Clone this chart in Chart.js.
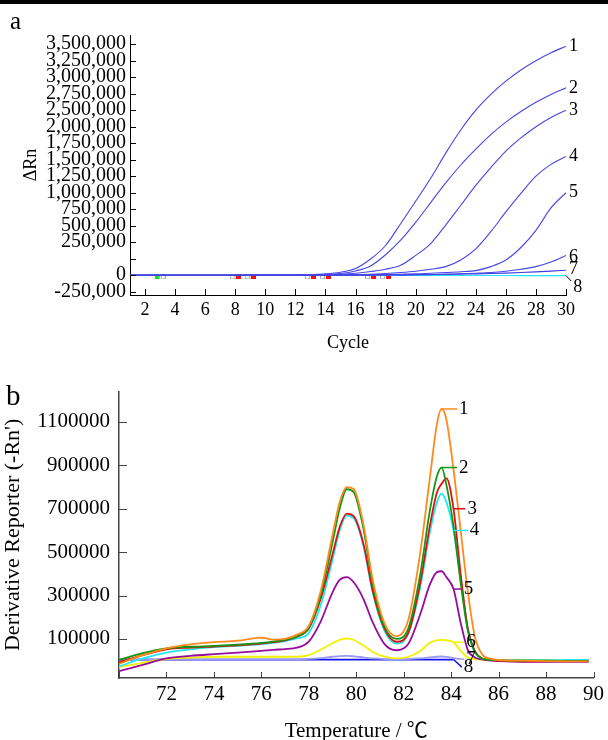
<!DOCTYPE html>
<html>
<head>
<meta charset="utf-8">
<script src="https://cdn.jsdelivr.net/npm/chart.js@4.4.1/dist/chart.umd.min.js"></script>
<style>
  body { margin: 0; background: #fff; }
  #page { position: relative; width: 608px; height: 740px; overflow: hidden; }
  #rule { position: absolute; left: 0; top: 0; width: 608px; height: 4px; background: #000; }
  #chartA { position: absolute; left: 0; top: 0; }
  #chartB { position: absolute; left: 0; top: 370px; }
</style>
</head>
<body>
<div id="page">
  <canvas id="chartA" width="608" height="370"></canvas>
  <canvas id="chartB" width="608" height="390"></canvas>
  <div id="rule"></div>
</div>
<script>
const serif = "'Liberation Serif', 'Noto Sans CJK SC', serif";

// ---- (a) amplification curves, delta Rn per cycle ----
const cycles = [1, 2, 3, 4, 5, 6, 7, 8, 9, 10, 11, 12, 13, 14, 15, 16, 17, 18, 19, 20, 21, 22, 23, 24, 25, 26, 27, 28, 29, 30];
const amp1 = [0, 0, 0, 0, 0, 0, 0, 0, 0, 2000, 3000, 5000, 10000, 20000, 45000, 100000, 245000, 450000, 780000, 1120000, 1470000, 1850000, 2200000, 2500000, 2740000, 2940000, 3110000, 3250000, 3370000, 3470000];
const amp2 = [0, 0, 0, 0, 0, 0, 0, 0, 0, 1000, 2000, 3000, 6000, 10000, 25000, 65000, 140000, 310000, 530000, 800000, 1100000, 1400000, 1670000, 1910000, 2130000, 2320000, 2480000, 2620000, 2740000, 2840000];
const amp3 = [0, 0, 0, 0, 0, 0, 0, 0, 0, 0, 1000, 2000, 4000, 7000, 15000, 30000, 55000, 90000, 150000, 300000, 480000, 760000, 1060000, 1360000, 1630000, 1880000, 2080000, 2250000, 2390000, 2500000];
const amp4 = [0, 0, 0, 0, 0, 0, 0, 0, 0, 0, 0, 1000, 1000, 2000, 3000, 8000, 15000, 25000, 40000, 60000, 90000, 130000, 230000, 400000, 660000, 960000, 1240000, 1500000, 1680000, 1800000];
const amp5 = [0, 0, 0, 0, 0, 0, 0, 0, 0, 0, 0, 0, 1000, 2000, 3000, 5000, 7000, 10000, 15000, 20000, 30000, 40000, 52000, 70000, 130000, 230000, 420000, 680000, 1020000, 1250000];
const amp6 = [0, 0, 0, 0, 0, 0, 0, 0, 0, 0, 0, 0, 0, 0, 1000, 1000, 2000, 3000, 5000, 7000, 10000, 15000, 22000, 30000, 40000, 60000, 90000, 130000, 200000, 300000];
const amp7 = [0, 0, 0, 0, 0, 0, 0, 0, 0, 0, 0, 0, 0, 0, 0, 1000, 1000, 2000, 4000, 6000, 9000, 12000, 16000, 20000, 25000, 32000, 40000, 50000, 62000, 75000];
const amp8 = [0, 0, 0, 0, 0, 0, 0, 0, 0, 0, 0, 0, 0, 0, 0, 0, 0, -1000, -2000, -3000, -3000, -4000, -4000, -5000, -5000, -5000, -6000, -6000, -6000, -6000];
const cycleTicks = [2, 4, 6, 8, 10, 12, 14, 16, 18, 20, 22, 24, 26, 28, 30];
const ampTickValues = [-250000, 0, 250000, 500000, 750000, 1000000, 1250000, 1500000, 1750000, 2000000, 2250000, 2500000, 2750000, 3000000, 3250000, 3500000];
const ampTickLabels = ['-250,000', '0', '', '250,000', '500,000', '750,000', '1,000,000', '1,250,000', '1,500,000', '1,750,000', '2,000,000', '2,500,000', '2,750,000', '3,000,000', '3,250,000', '3,500,000'];
const baselineStart = [3];
const baselineEnd = [8, 9, 13, 14, 17, 18];
const markerLevel = -25000;

// ---- (b) melt curves, derivative reporter vs temperature ----
const temps = [70, 71, 72, 73, 74, 75, 76, 76.5, 77, 77.5, 78, 78.5, 79, 79.3, 79.6, 79.9, 80.3, 80.7, 81.2, 81.7, 82.2, 82.7, 83.1, 83.4, 83.6, 83.8, 84.1, 84.4, 84.7, 85, 85.3, 85.7, 86, 87, 88, 89, 89.8];
const melt1 = [-15000, 25000, 57000, 75000, 85000, 92000, 106000, 97000, 100000, 120000, 160000, 320000, 580000, 730000, 800000, 790000, 630000, 370000, 170000, 113000, 190000, 500000, 840000, 1090000, 1160000, 1110000, 880000, 600000, 320000, 110000, 30000, 8000, 3000, 0, -2000, -3000, -3000];
const melt2 = [3000, 35000, 57000, 64000, 68000, 74000, 82000, 88000, 96000, 112000, 152000, 300000, 545000, 700000, 790000, 775000, 610000, 350000, 155000, 100000, 150000, 400000, 690000, 850000, 890000, 810000, 620000, 360000, 140000, 40000, 10000, 3000, 2000, 0, 0, -2000, -2000];
const melt3 = [-7500, 25000, 52000, 60000, 65000, 70000, 78000, 85000, 93000, 110000, 148000, 285000, 490000, 615000, 678000, 665000, 540000, 320000, 145000, 87000, 130000, 360000, 620000, 775000, 815000, 840000, 700000, 400000, 150000, 45000, 10000, 2000, 0, -3000, -3000, -2000, -2000];
const melt4 = [-27000, 10000, 37000, 52000, 62000, 68000, 76000, 82000, 90000, 102000, 128000, 255000, 465000, 600000, 668000, 655000, 530000, 310000, 135000, 78000, 125000, 340000, 590000, 730000, 770000, 730000, 600000, 380000, 150000, 40000, 10000, 4000, 3000, 2000, 2000, 3000, 3000];
const melt5 = [-48000, -20000, 10000, 22000, 30000, 37000, 45000, 50000, 53000, 60000, 88000, 180000, 315000, 372000, 385000, 360000, 285000, 175000, 75000, 48000, 78000, 215000, 350000, 408000, 412000, 385000, 330000, 175000, 50000, 15000, 6000, 0, -2000, -5000, -5000, -5000, -5000];
const melt6 = [-30000, -10000, 7500, 14000, 18000, 18000, 18000, 18000, 18000, 18000, 25000, 50000, 80000, 96000, 102000, 95000, 70000, 40000, 18000, 10000, 18000, 45000, 82000, 95000, 96000, 94000, 85000, 45000, 14000, 7000, 5000, 4000, 3000, 2000, 2000, 2000, 2000];
const melt7 = [6000, 6000, 6000, 6000, 6000, 6000, 6000, 6000, 6000, 6000, 8000, 12000, 18000, 21000, 22000, 20000, 15000, 10000, 7000, 6000, 7000, 10000, 15000, 18000, 19000, 17000, 12000, 7000, null, null, null, null, null, null, null, null, null];
const melt8 = [5000, 5000, 5000, 5000, 5000, 5000, 5000, 5000, 5000, 5000, 5000, 5000, 5000, 5000, 5000, 5000, 5000, 5000, 5000, 5000, 5000, 5000, 5000, 5000, 5000, 5000, 5000, null, null, null, null, null, null, null, null, null, null];
const tempTicks = [70, 72, 74, 76, 78, 80, 82, 84, 86, 88, 90];
const meltTickValues = [100000, 300000, 500000, 700000, 900000, 1100000];

// inward tick marks, curve numbers with leader lines, panel letter
function makeDecor(o) {
  return {
    id: 'decor',
    afterDraw(chart) {
      const { ctx, chartArea: a, scales: { x, y } } = chart;
      ctx.save();
      ctx.strokeStyle = o.tickColor;
      ctx.lineWidth = 1;
      ctx.beginPath();
      x.ticks.forEach(t => {
        const px = Math.round(x.getPixelForValue(t.value)) + 0.5;
        ctx.moveTo(px, a.bottom);
        ctx.lineTo(px, a.bottom - o.tickLenX);
      });
      y.ticks.forEach(t => {
        const py = Math.round(y.getPixelForValue(t.value)) + 0.5;
        ctx.moveTo(a.left, py);
        ctx.lineTo(a.left + o.tickLenY, py);
      });
      ctx.stroke();

      ctx.font = o.labelFont;
      ctx.textBaseline = 'middle';
      ctx.textAlign = 'left';
      o.labels.forEach(l => {
        const ds = chart.data.datasets[l.ds];
        const i = l.at === undefined ? ds.data.length - 1 : l.at;
        const p = ds.data[i];
        const px = x.getPixelForValue(p.x), py = y.getPixelForValue(p.y);
        let tx = px + 3, ty = py + (l.dy || 0);
        if (l.toX !== undefined) {
          tx = x.getPixelForValue(l.toX);
          ty = l.toY === undefined ? py : y.getPixelForValue(l.toY);
        }
        if (l.leader) {
          ctx.strokeStyle = l.leaderColor || ds.borderColor;
          ctx.lineWidth = l.leaderWidth || 1.5;
          ctx.beginPath();
          ctx.moveTo(px, py);
          ctx.lineTo(tx, ty - (l.leaderLift || 0));
          ctx.stroke();
          tx += 2;
        }
        ctx.fillStyle = '#000';
        ctx.fillText(l.text, tx, ty);
      });

      ctx.textBaseline = 'alphabetic';
      ctx.font = o.tagFont;
      ctx.fillStyle = '#000';
      ctx.fillText(o.tag, o.tagX, o.tagY);
      ctx.restore();
    }
  };
}

function markerPair(fill, filledFirst) {
  const c = document.createElement('canvas');
  c.width = 11;
  c.height = 5;
  const g = c.getContext('2d');
  g.fillStyle = fill;
  g.fillRect(filledFirst ? 0 : 6, 0, 5, 5);
  g.strokeStyle = '#b0b0b0';
  g.lineWidth = 1;
  g.strokeRect((filledFirst ? 6 : 0) + 0.5, 0.5, 4, 4);
  return c;
}

const pts = (xs, ys) => xs.map((v, i) => ({ x: v, y: ys[i] }));
const ampSeries = [amp1, amp2, amp3, amp4, amp5, amp6, amp7, amp8];
const ampColors = ['#4646e6', '#4646e6', '#4646e6', '#4646e6', '#4646e6', '#4646e6', '#3c3ce6', '#1ee6ff'];
const ampLabelMap = {};
ampTickValues.forEach((v, i) => { ampLabelMap[v] = ampTickLabels[i]; });

new Chart(document.getElementById('chartA'), {
  type: 'line',
  data: {
    datasets: [
      ...ampSeries.map((s, i) => ({
        data: pts(cycles, s),
        borderColor: ampColors[i],
        borderWidth: 1.1,
        pointRadius: 0,
        cubicInterpolationMode: 'monotone'
      })),
      {
        data: baselineStart.map(c => ({ x: c, y: markerLevel })),
        showLine: false,
        pointStyle: markerPair('#22dd22', true),
        pointRadius: 4
      },
      {
        data: baselineEnd.map(c => ({ x: c, y: markerLevel })),
        showLine: false,
        pointStyle: markerPair('#ee1111', false),
        pointRadius: 4
      }
    ]
  },
  options: {
    responsive: false,
    animation: false,
    layout: { padding: { left: 0, top: 35, right: 42, bottom: 0 } },
    plugins: { legend: { display: false }, tooltip: { enabled: false } },
    scales: {
      x: {
        type: 'linear',
        min: 1,
        max: 30,
        grid: { display: false, drawTicks: false },
        border: { display: true, color: '#000', width: 1 },
        ticks: { color: '#000', font: { family: serif, size: 18 }, padding: 4, maxRotation: 0, autoSkip: false },
        afterBuildTicks: s => { s.ticks = cycleTicks.map(v => ({ value: v })); },
        afterFit: s => { s.height = 75; },
        title: { display: true, text: 'Cycle', color: '#000', font: { family: serif, size: 18 }, padding: { top: 0, bottom: 16 } }
      },
      y: {
        min: -300000,
        max: 3640000,
        grid: { display: false, drawTicks: false },
        border: { display: true, color: '#000', width: 1 },
        ticks: { color: '#000', font: { family: serif, size: 20 }, padding: 4, autoSkip: false, callback: v => ampLabelMap[v] },
        afterBuildTicks: s => { s.ticks = ampTickValues.map(v => ({ value: v })); },
        afterFit: s => { s.width = 130; },
        title: { display: true, text: 'ΔRn', color: '#000', font: { family: serif, size: 18 }, padding: { top: 20, bottom: 0 } }
      }
    }
  },
  plugins: [makeDecor({
    tickColor: '#000',
    tickLenX: 6,
    tickLenY: 6,
    labelFont: '18px ' + serif,
    labels: [
      { text: '1', ds: 0 }, { text: '2', ds: 1 }, { text: '3', ds: 2 }, { text: '4', ds: 3 },
      { text: '5', ds: 4 }, { text: '6', ds: 5, dy: 2 }, { text: '7', ds: 6, dy: -1 },
      { text: '8', ds: 7, toX: 30.35, toY: -180000, leader: true, leaderColor: '#000', leaderWidth: 1, leaderLift: 6 }
    ],
    tag: 'a', tagX: 10, tagY: 29, tagFont: '25px ' + serif
  })]
});

const meltSeries = [melt1, melt2, melt3, melt4, melt5, melt6, melt7, melt8];
const meltColors = ['#ff8a1c', '#149614', '#e01010', '#1ee8f0', '#960c9c', '#f2f200', '#9a9af5', '#1414f0'];

new Chart(document.getElementById('chartB'), {
  type: 'line',
  data: {
    datasets: meltSeries.map((s, i) => ({
      data: pts(temps, s),
      borderColor: meltColors[i],
      borderWidth: 1.8,
      pointRadius: 0,
      cubicInterpolationMode: 'monotone'
    }))
  },
  options: {
    responsive: false,
    animation: false,
    layout: { padding: { left: 0, top: 15, right: 14, bottom: 0 } },
    plugins: { legend: { display: false }, tooltip: { enabled: false } },
    scales: {
      x: {
        type: 'linear',
        min: 70,
        max: 90,
        grid: { display: false, drawTicks: false },
        border: { display: true, color: '#444', width: 1.5 },
        ticks: { color: '#000', font: { family: serif, size: 21 }, padding: 4, maxRotation: 0, autoSkip: false, callback: v => (v === 70 ? '' : String(v)) },
        afterBuildTicks: s => { s.ticks = tempTicks.map(v => ({ value: v })); },
        afterFit: s => { s.height = 82; },
        title: { display: true, text: 'Temperature / ℃', color: '#000', font: { family: serif, size: 21 }, padding: { top: 0, bottom: 16 } }
      },
      y: {
        min: -80000,
        max: 1240000,
        grid: { display: false, drawTicks: false },
        border: { display: true, color: '#444', width: 1.5 },
        ticks: { color: '#000', font: { family: serif, size: 21 }, padding: 9, autoSkip: false, callback: v => String(v) },
        afterBuildTicks: s => { s.ticks = meltTickValues.map(v => ({ value: v })); },
        afterFit: s => { s.width = 119; },
        title: { display: true, text: "Derivative Reporter (-Rn')", color: '#000', font: { family: serif, size: 22 }, padding: { top: 0, bottom: 0 } }
      }
    }
  },
  plugins: [makeDecor({
    tickColor: '#444',
    tickLenX: 6,
    tickLenY: 8,
    labelFont: '19px ' + serif,
    labels: [
      { text: '1', ds: 0, at: 24, toX: 84.25, leader: true },
      { text: '2', ds: 1, at: 24, toX: 84.25, leader: true },
      { text: '3', ds: 2, at: 26, toX: 84.6, leader: true },
      { text: '4', ds: 3, at: 26, toX: 84.7, leader: true },
      { text: '5', ds: 4, at: 26, toX: 84.45, leader: true },
      { text: '6', ds: 5, at: 26, toX: 84.55, leader: true },
      { text: '7', ds: 6, at: 27, toX: 84.55, leader: true },
      { text: '8', ds: 7, at: 26, toX: 84.45, toY: -30000, leader: true }
    ],
    tag: 'b', tagX: 6, tagY: 35, tagFont: '29px ' + serif
  })]
});
</script>
</body>
</html>
